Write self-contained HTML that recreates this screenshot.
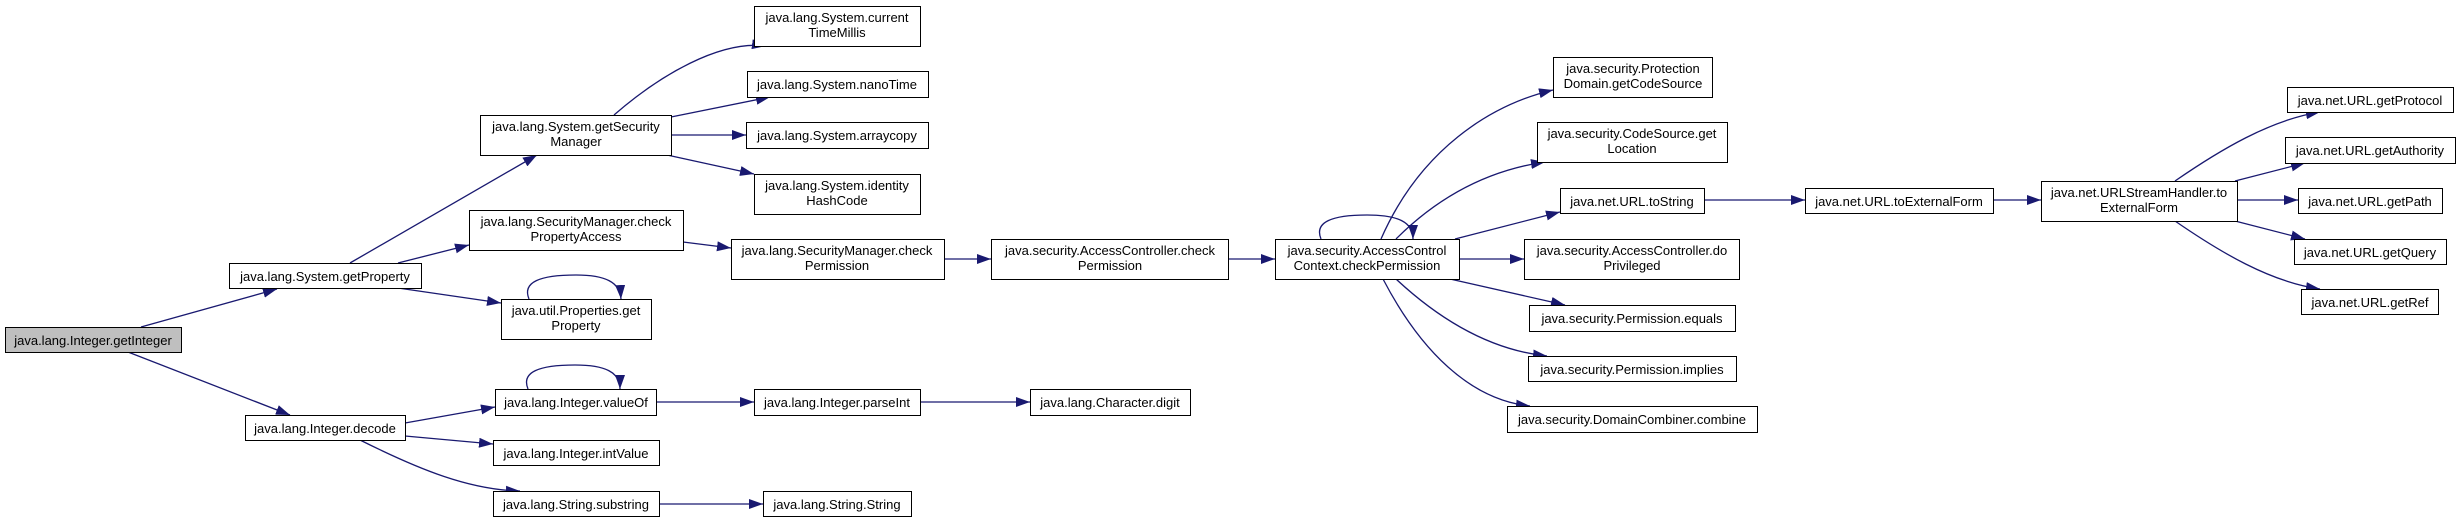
<!DOCTYPE html>
<html><head><meta charset="utf-8"><style>
html,body{margin:0;padding:0;background:#fff;width:2460px;height:522px;overflow:hidden}
text{font-family:"Liberation Sans",Arial,sans-serif;font-size:13px;fill:#000}
</style></head><body>
<svg width="2460" height="522" viewBox="0 0 2460 522" xmlns="http://www.w3.org/2000/svg">
<defs><marker id="a" markerWidth="14" markerHeight="10" refX="14" refY="5" orient="auto" markerUnits="userSpaceOnUse"><path d="M0,0 L14,5 L0,10 Z" fill="#191970"/></marker></defs>
<g fill="none" stroke="#191970" stroke-width="1.3" marker-end="url(#a)">
<path d="M141,327 L277,289"/>
<path d="M128,352 L290,415"/>
<path d="M350,263 L537,155"/>
<path d="M398,263 L469,245"/>
<path d="M398,288 L501,303"/>
<path d="M529,299 C522,282 540,275 576,275 C605,275 620,282 621,299"/>
<path d="M614,115 C660,75 720,40 766,46"/>
<path d="M671,117 L770,97"/>
<path d="M671,135 L746,135"/>
<path d="M667,155 L754,174"/>
<path d="M683,242 L731,248"/>
<path d="M944,259 L991,259"/>
<path d="M1228,259 L1275,259"/>
<path d="M1321,239 C1314,222 1332,215 1367,215 C1398,215 1413,222 1413,239"/>
<path d="M1381,239 C1420,150 1490,105 1553,90"/>
<path d="M1396,239 C1440,195 1490,170 1545,162"/>
<path d="M1455,239 L1560,212"/>
<path d="M1459,259 L1524,259"/>
<path d="M1450,279 L1565,305"/>
<path d="M1396,279 C1440,320 1490,350 1547,356"/>
<path d="M1383,279 C1420,350 1470,400 1530,406"/>
<path d="M1704,200 L1805,200"/>
<path d="M1993,200 L2041,200"/>
<path d="M2175,181 C2220,150 2270,120 2320,112"/>
<path d="M2235,181 L2305,163"/>
<path d="M2237,200 L2298,200"/>
<path d="M2235,221 L2305,239"/>
<path d="M2175,221 C2220,252 2270,282 2320,289"/>
<path d="M405,423 L495,407"/>
<path d="M528,389 C521,372 539,365 575,365 C605,365 620,372 620,389"/>
<path d="M656,402 L754,402"/>
<path d="M920,402 L1030,402"/>
<path d="M405,436 L493,444"/>
<path d="M360,440 C420,470 470,490 520,491"/>
<path d="M659,504 L763,504"/>
</g>
<g stroke="#000" stroke-width="1" fill="#fff">
<rect x="5.5" y="327.5" width="176" height="25" fill="#bfbfbf"/>
<rect x="229.5" y="263.5" width="192" height="25"/>
<rect x="245.5" y="415.5" width="160" height="25"/>
<rect x="480.5" y="115.5" width="191" height="40"/>
<rect x="469.5" y="210.5" width="214" height="40"/>
<rect x="501.5" y="299.5" width="150" height="40"/>
<rect x="495.5" y="389.5" width="161" height="26"/>
<rect x="493.5" y="440.5" width="166" height="25"/>
<rect x="493.5" y="491.5" width="166" height="25"/>
<rect x="754.5" y="6.5" width="166" height="40"/>
<rect x="747.5" y="71.5" width="181" height="26"/>
<rect x="746.5" y="122.5" width="182" height="26"/>
<rect x="754.5" y="174.5" width="166" height="40"/>
<rect x="731.5" y="239.5" width="213" height="40"/>
<rect x="754.5" y="389.5" width="166" height="26"/>
<rect x="763.5" y="491.5" width="148" height="25"/>
<rect x="991.5" y="239.5" width="237" height="40"/>
<rect x="1275.5" y="239.5" width="184" height="40"/>
<rect x="1030.5" y="389.5" width="160" height="26"/>
<rect x="1553.5" y="57.5" width="159" height="40"/>
<rect x="1537.5" y="122.5" width="190" height="40"/>
<rect x="1560.5" y="188.5" width="144" height="25"/>
<rect x="1524.5" y="239.5" width="215" height="40"/>
<rect x="1529.5" y="305.5" width="206" height="26"/>
<rect x="1528.5" y="356.5" width="208" height="25"/>
<rect x="1507.5" y="406.5" width="250" height="26"/>
<rect x="1805.5" y="188.5" width="188" height="25"/>
<rect x="2041.5" y="181.5" width="196" height="40"/>
<rect x="2287.5" y="87.5" width="166" height="25"/>
<rect x="2285.5" y="137.5" width="170" height="26"/>
<rect x="2298.5" y="188.5" width="144" height="25"/>
<rect x="2294.5" y="239.5" width="152" height="25"/>
<rect x="2301.5" y="289.5" width="137" height="25"/>
</g>
<g text-anchor="middle">
<text x="93" y="345">java.lang.Integer.getInteger</text>
<text x="325" y="281">java.lang.System.getProperty</text>
<text x="325" y="433">java.lang.Integer.decode</text>
<text x="576" y="131">java.lang.System.getSecurity</text><text x="576" y="146">Manager</text>
<text x="576" y="226">java.lang.SecurityManager.check</text><text x="576" y="241">PropertyAccess</text>
<text x="576" y="315">java.util.Properties.get</text><text x="576" y="330">Property</text>
<text x="576" y="407">java.lang.Integer.valueOf</text>
<text x="576" y="458">java.lang.Integer.intValue</text>
<text x="576" y="509">java.lang.String.substring</text>
<text x="837" y="22">java.lang.System.current</text><text x="837" y="37">TimeMillis</text>
<text x="837" y="89">java.lang.System.nanoTime</text>
<text x="837" y="140">java.lang.System.arraycopy</text>
<text x="837" y="190">java.lang.System.identity</text><text x="837" y="205">HashCode</text>
<text x="837" y="255">java.lang.SecurityManager.check</text><text x="837" y="270">Permission</text>
<text x="837" y="407">java.lang.Integer.parseInt</text>
<text x="837" y="509">java.lang.String.String</text>
<text x="1110" y="255">java.security.AccessController.check</text><text x="1110" y="270">Permission</text>
<text x="1367" y="255">java.security.AccessControl</text><text x="1367" y="270">Context.checkPermission</text>
<text x="1110" y="407">java.lang.Character.digit</text>
<text x="1633" y="73">java.security.Protection</text><text x="1633" y="88">Domain.getCodeSource</text>
<text x="1632" y="138">java.security.CodeSource.get</text><text x="1632" y="153">Location</text>
<text x="1632" y="206">java.net.URL.toString</text>
<text x="1632" y="255">java.security.AccessController.do</text><text x="1632" y="270">Privileged</text>
<text x="1632" y="323">java.security.Permission.equals</text>
<text x="1632" y="374">java.security.Permission.implies</text>
<text x="1632" y="424">java.security.DomainCombiner.combine</text>
<text x="1899" y="206">java.net.URL.toExternalForm</text>
<text x="2139" y="197">java.net.URLStreamHandler.to</text><text x="2139" y="212">ExternalForm</text>
<text x="2370" y="105">java.net.URL.getProtocol</text>
<text x="2370" y="155">java.net.URL.getAuthority</text>
<text x="2370" y="206">java.net.URL.getPath</text>
<text x="2370" y="257">java.net.URL.getQuery</text>
<text x="2370" y="307">java.net.URL.getRef</text>
</g>
</svg>
</body></html>
